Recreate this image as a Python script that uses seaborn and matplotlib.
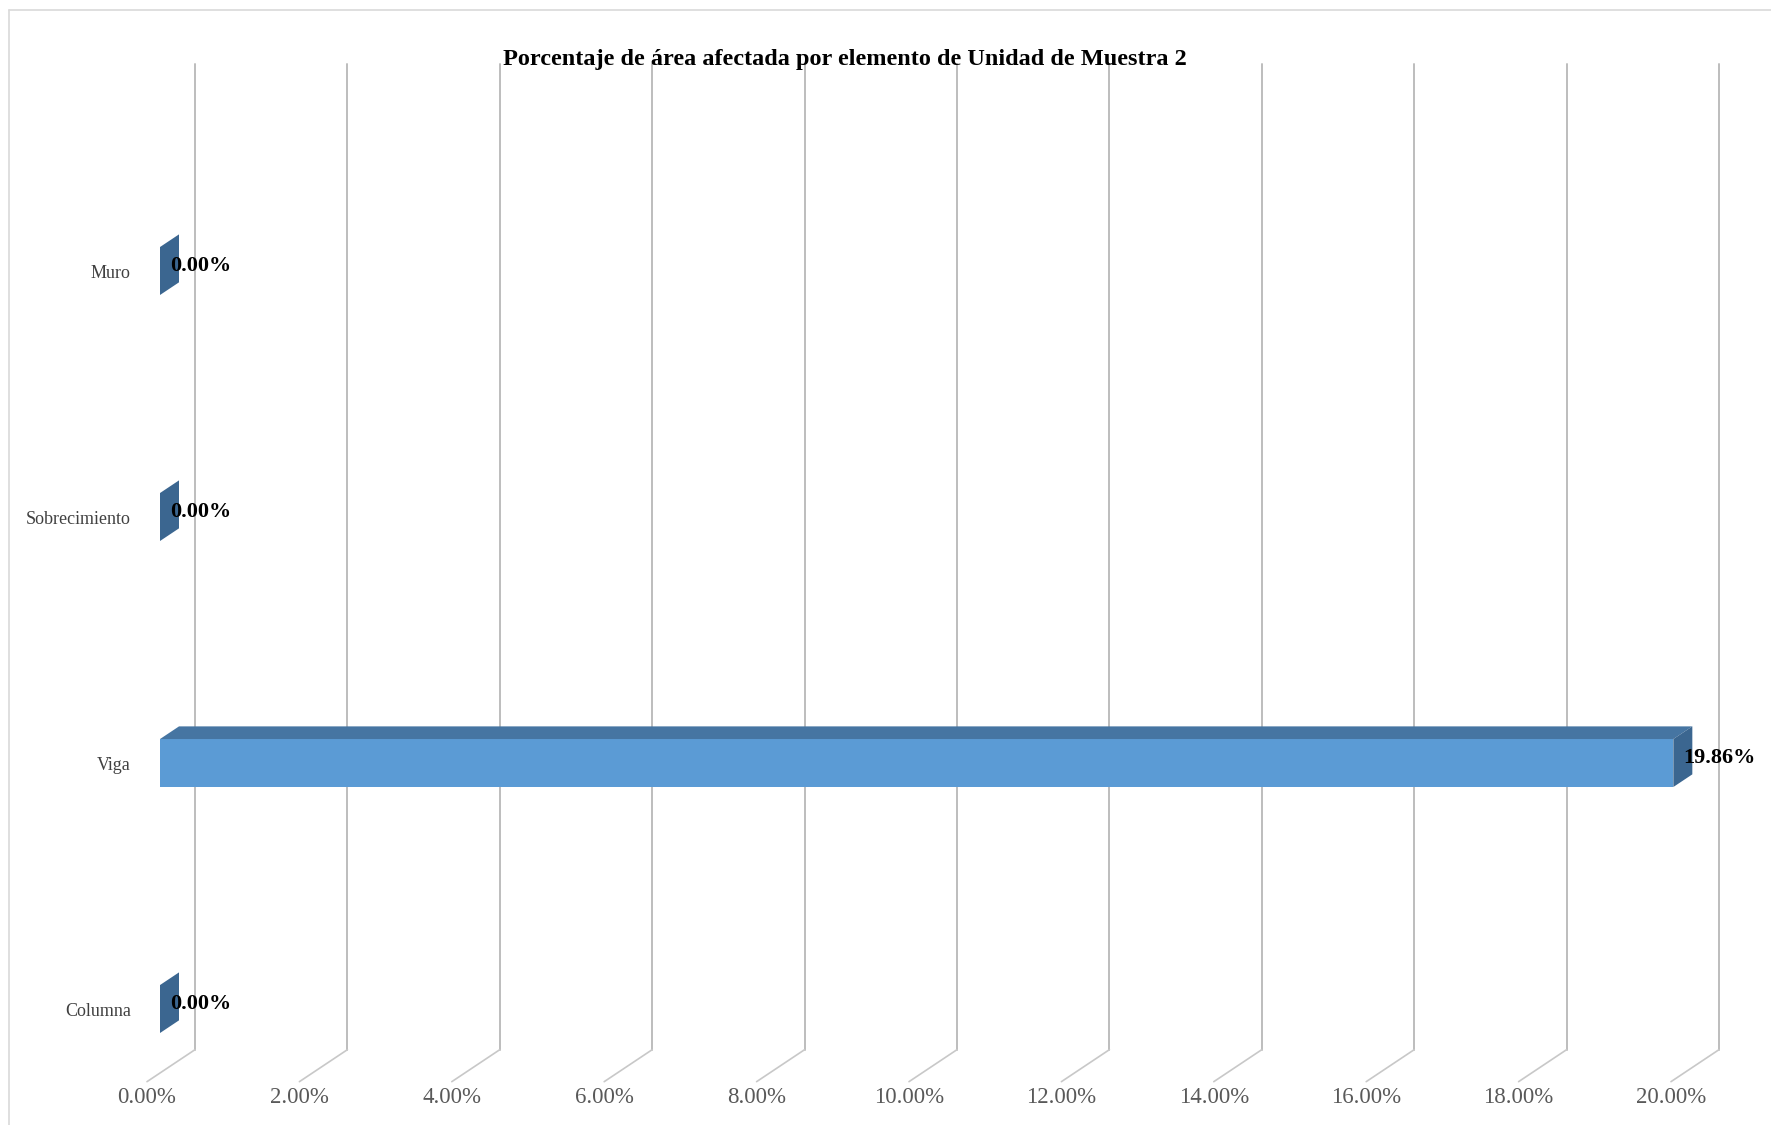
import numpy as np
import pandas as pd
import matplotlib
matplotlib.use("Agg")
import matplotlib.pyplot as plt
import seaborn as sns
from matplotlib.patches import Polygon
from matplotlib.lines import Line2D
from matplotlib.transforms import IdentityTransform, offset_copy

# ---- data ----
categories = ["Muro", "Sobrecimiento", "Viga", "Columna"]
porcentajes = [0.00, 0.00, 19.86, 0.00]
ticks = [0, 2, 4, 6, 8, 10, 12, 14, 16, 18, 20]
tick_labels = ["0.00%", "2.00%", "4.00%", "6.00%", "8.00%", "10.00%",
               "12.00%", "14.00%", "16.00%", "18.00%", "20.00%"]
title = "Porcentaje de área afectada por elemento de Unidad de Muestra 2"

# ---- figure setup ----
W, H, DPI = 1771, 1125, 100
sns.set_theme(style="white")
plt.rcParams["font.family"] = ["Liberation Serif", "DejaVu Serif"]

fig = plt.figure(figsize=(W / DPI, H / DPI), dpi=DPI)
fig.patch.set_facecolor("white")

# plot area = front plane of the bars (pixel box)
left_px, right_px = 160, 1684
top_px, bottom_px = 87, 1073
ax = fig.add_axes([left_px / W, 1 - bottom_px / H,
                   (right_px - left_px) / W, (bottom_px - top_px) / H])
ax.set_facecolor("none")

df = pd.DataFrame({"elemento": categories, "pct": porcentajes})
sns.barplot(data=df, x="pct", y="elemento", orient="h", width=0.195,
            color="#5B9BD5", saturation=1, linewidth=0, ax=ax, zorder=4)

ax.set_xlim(0, 20)
ax.set_ylim(3.26, -0.748)
for s in ax.spines.values():
    s.set_visible(False)
ax.set_xlabel("")
ax.set_ylabel("")
ax.set_xticks([])
ax.set_yticks(range(len(categories)), categories)
ax.tick_params(axis="y", length=0, pad=21, labelsize=13, labelcolor="#404040")

# oblique depth vector (display pixels) used for the pseudo-3D look
depth = np.array([48.0, 32.0])
floor_off = depth * (-13 / 48)
back_off = depth * (19 / 48)
wall_off = depth * (35 / 48)

ymin_d, ymax_d = ax.get_ylim()
grid_col = "#bdbdbd"
ident = IdentityTransform()

# back-wall gridlines and floor diagonals
for t in ticks:
    bot = ax.transData.transform((t, ymin_d))
    top = ax.transData.transform((t, ymax_d))
    wb = bot + wall_off
    wt = top + wall_off
    fb = bot + floor_off
    ax.add_line(Line2D([wb[0], wt[0]], [wb[1], wt[1]], transform=ident,
                       color=grid_col, lw=1.4, zorder=1, clip_on=False))
    ax.add_line(Line2D([fb[0], wb[0]], [fb[1], wb[1]], transform=ident,
                       color="#c8c8c8", lw=1.2, zorder=1, clip_on=False))

# x tick labels along the front floor edge
for t, lab in zip(ticks, tick_labels):
    ax.text(t, ymin_d, lab,
            transform=offset_copy(ax.transData, fig, x=floor_off[0], y=floor_off[1] - 16, units="dots"),
            ha="center", va="center", fontsize=16.5, color="#595959", clip_on=False)

# top and side faces of the bars
top_col = "#4675A2"
side_col = "#3B6690"
for p in list(ax.patches):
    x0, y0, w, h = p.get_x(), p.get_y(), p.get_width(), p.get_height()
    c = ax.transData.transform([(x0, y0), (x0 + w, y0 + h)])
    xl, xr = min(c[:, 0]), max(c[:, 0])
    yb, yt = min(c[:, 1]), max(c[:, 1])
    bx, by = back_off
    if xr - xl > 0.5:
        ax.add_patch(Polygon([(xl, yt), (xr, yt), (xr + bx, yt + by), (xl + bx, yt + by)],
                             closed=True, transform=ident, facecolor=top_col,
                             edgecolor="none", zorder=5, clip_on=False))
    ax.add_patch(Polygon([(xr, yb), (xr, yt), (xr + bx, yt + by), (xr + bx, yb + by)],
                         closed=True, transform=ident, facecolor=side_col,
                         edgecolor="none", zorder=5, clip_on=False))

# value labels
for i, v in enumerate(porcentajes):
    ax.text(v, i, f"{v:.2f}%",
            transform=offset_copy(ax.transData, fig, x=10, y=5, units="dots"),
            ha="left", va="center", fontsize=16, fontweight="bold", color="black",
            zorder=7, clip_on=False)

# title
fig.text(845 / W, 1 - 59 / H, title, ha="center", va="center",
         fontsize=17.5, fontweight="bold", color="black")

# chart frame (left and top edges)
fig.add_artist(Line2D([9, 9], [0, H - 10], transform=ident, color="#d9d9d9", lw=1.2))
fig.add_artist(Line2D([9, W], [H - 10, H - 10], transform=ident, color="#d9d9d9", lw=1.2))

fig.savefig("out.png", dpi=DPI, facecolor="white")
